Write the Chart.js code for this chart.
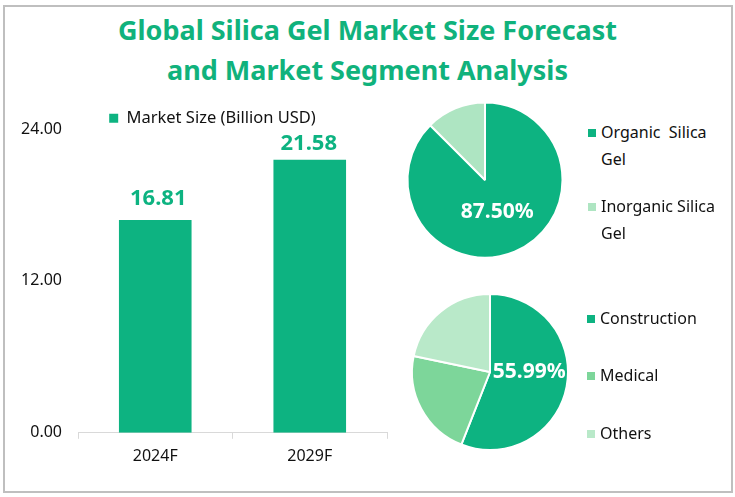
<!DOCTYPE html>
<html>
<head>
<meta charset="utf-8">
<script src="https://cdn.jsdelivr.net/npm/chart.js@4"></script>
<style>
  body { margin: 0; background: #fff; font-family: "Noto Sans", sans-serif; }
  #frame { position: absolute; left: 3px; top: 5px; width: 726px; height: 484px; border: 2px solid #bfbfbf; }
  #title { position: absolute; left: 0; top: 10px; width: 735px; margin: 0; text-align: center; color: #10b27c;
    font-size: 27px; line-height: 40px; font-weight: 700; }
  .box { position: absolute; }
  .legend-item { position: absolute; color: #111; font-size: 16px; line-height: 27px; white-space: nowrap; }
  .legend-item i { position: absolute; width: 8px; height: 8px; }
</style>
</head>
<body>
<div id="frame"></div>
<h1 id="title">Global Silica Gel Market Size Forecast<br>and Market Segment Analysis</h1>
<div class="box" style="left:0;top:102px;width:424px;height:372px"><canvas id="barChart"></canvas></div>
<div class="box" style="left:395px;top:90px;width:180px;height:180px"><canvas id="typePie"></canvas></div>
<div class="box" style="left:400px;top:282px;width:180px;height:180px"><canvas id="usePie"></canvas></div>
<div id="legends"></div>
<script>
const years = ['2024F', '2029F'];
const marketSize = [16.81, 21.58];
const yTicks = [0, 12, 24];
const seriesName = 'Market Size (Billion USD)';

const typeLabels = [['Organic  Silica', 'Gel'], ['Inorganic Silica', 'Gel']];
const typeShare = [87.5, 12.5];
const typeColors = ['#0db381', '#aee5c2'];

const useLabels = [['Construction'], ['Medical'], ['Others']];
const useShare = [55.99, 22.3, 21.71];
const useColors = ['#0db381', '#7dd69a', '#b9e9c9'];

const green = '#0db381';
const fontName = '"Noto Sans", sans-serif';

// value text above the bars, the two labels do not sit the same in the picture
const barValues = {
  id: 'barValues',
  afterDatasetsDraw(chart) {
    const nudge = [[3, 10], [-1, 5]];
    const ctx = chart.ctx;
    ctx.save();
    ctx.font = '700 22px ' + fontName;
    ctx.fillStyle = green;
    ctx.textAlign = 'center';
    ctx.textBaseline = 'bottom';
    chart.getDatasetMeta(0).data.forEach(function(bar, i) {
      ctx.fillText(marketSize[i].toFixed(2), bar.x + nudge[i][0], bar.y - nudge[i][1]);
    });
    ctx.restore();
  }
};

// legend strip has a fixed height and is drawn shifted from the plot centre
const movedLegend = {
  id: 'movedLegend',
  beforeInit(chart) {
    const legend = chart.legend;
    const fit = legend.fit;
    const draw = legend.draw;
    legend.fit = function() {
      fit.call(this);
      this.height = 27;
    };
    legend.draw = function() {
      chart.ctx.save();
      chart.ctx.translate(19, 8);
      draw.call(this);
      chart.ctx.restore();
    };
  }
};

// percent text on the biggest slice only
const sliceValue = {
  id: 'sliceValue',
  afterDatasetsDraw(chart, args, opts) {
    const arc = chart.getDatasetMeta(0).data[0];
    const mid = (arc.startAngle + arc.endAngle) / 2;
    const ctx = chart.ctx;
    ctx.save();
    ctx.font = '700 21px ' + fontName;
    ctx.fillStyle = '#fff';
    ctx.textAlign = 'center';
    ctx.textBaseline = 'middle';
    ctx.fillText(chart.data.datasets[0].data[0].toFixed(2) + '%',
      arc.x + Math.cos(mid) * opts.dist + opts.dx, arc.y + Math.sin(mid) * opts.dist + opts.dy);
    ctx.restore();
  }
};

new Chart(document.getElementById('barChart'), {
  type: 'bar',
  data: {
    labels: years,
    datasets: [{ label: seriesName, data: marketSize, backgroundColor: green, categoryPercentage: 0.47, barPercentage: 1 }]
  },
  options: {
    responsive: true,
    maintainAspectRatio: false,
    animation: false,
    layout: { padding: { right: 37, bottom: 0 } },
    plugins: {
      tooltip: { enabled: false },
      legend: {
        labels: { boxWidth: 9, boxHeight: 9, padding: 0, color: '#111', font: { family: fontName, size: 16.5 } }
      }
    },
    scales: {
      x: {
        grid: { offset: true, drawOnChartArea: false, color: '#d9d9d9', tickLength: 6 },
        border: { color: '#d9d9d9' },
        ticks: { color: '#111', padding: 8, font: { family: fontName, size: 16 } }
      },
      y: {
        min: 0,
        max: 24,
        afterBuildTicks(axis) { axis.ticks = yTicks.map(v => ({ value: v })); },
        afterFit(axis) { axis.width = 78; },
        grid: { display: false },
        border: { display: false },
        ticks: { color: '#111', padding: 8, callback: v => v.toFixed(2), font: { family: fontName, size: 16 } }
      }
    }
  },
  plugins: [barValues, movedLegend]
});

function makePie(id, labels, values, colors, radius, labelPos) {
  new Chart(document.getElementById(id), {
    type: 'pie',
    data: {
      labels: labels.map(l => l.join(' ')),
      datasets: [{ data: values, backgroundColor: colors, borderColor: '#fff', borderWidth: 2, radius: radius }]
    },
    options: {
      responsive: true,
      maintainAspectRatio: false,
      animation: false,
      plugins: { legend: { display: false }, tooltip: { enabled: false }, sliceValue: labelPos }
    },
    plugins: [sliceValue]
  });
}
makePie('typePie', typeLabels, typeShare, typeColors, 77.5, { dist: 32, dx: 0, dy: 2 });
makePie('usePie', useLabels, useShare, useColors, 78, { dist: 40, dx: 0, dy: -7 });

// side legends, the text wraps as in the picture
function addLegend(labels, colors, left, tops) {
  const host = document.getElementById('legends');
  labels.forEach(function(lines, i) {
    const item = document.createElement('div');
    item.className = 'legend-item';
    item.style.left = left + 'px';
    item.style.top = tops[i] + 'px';
    item.innerHTML = '<i style="left:-13px;top:10px;background:' + colors[i] + '"></i>' +
      lines.map(t => t.replace(/  /g, ' &nbsp;')).join('<br>');
    host.appendChild(item);
  });
}
addLegend(typeLabels, typeColors, 601, [119, 193]);
addLegend(useLabels, useColors, 600, [305, 362, 420]);
</script>
</body>
</html>
